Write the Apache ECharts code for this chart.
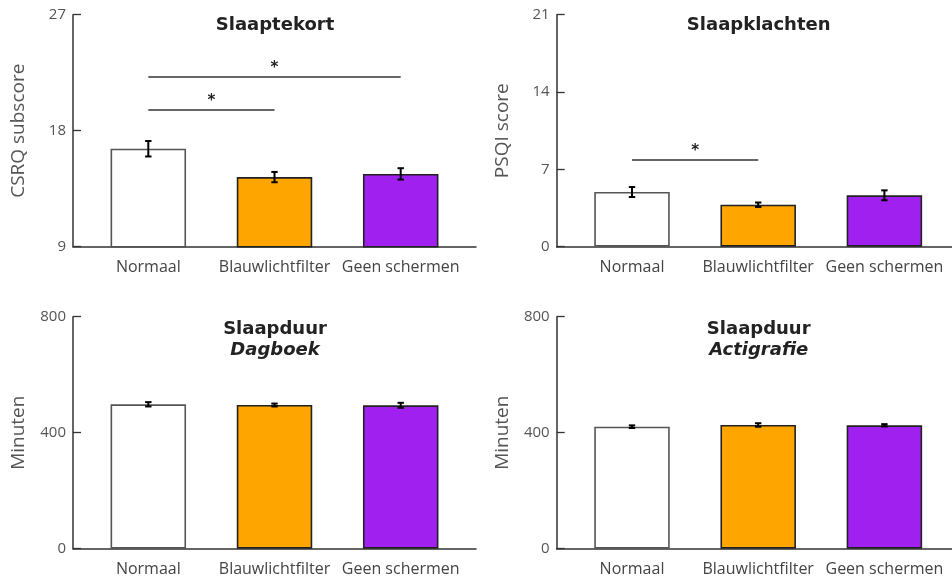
<!DOCTYPE html>
<html>
<head>
<meta charset="utf-8">
<script src="https://cdn.jsdelivr.net/npm/echarts@6/dist/echarts.min.js"></script>
<style>
html,body{margin:0;padding:0;background:#fff;}
#chart{width:952px;height:579px;}
</style>
</head>
<body>
<div id="chart"></div>
<script>
// ---------- data ----------
var categories = ['Normaal', 'Blauwlichtfilter', 'Geen schermen'];

var csrqMeans = [16.6, 14.4, 14.65];
var csrqErr   = [0.6, 0.4, 0.44];
var csrqTicks = [9, 18, 27];
var csrqSig   = [['Normaal', 'Geen schermen', 22.2], ['Normaal', 'Blauwlichtfilter', 19.6]];

var psqiMeans = [4.95, 3.8, 4.65];
var psqiErr   = [0.45, 0.2, 0.45];
var psqiTicks = [0, 7, 14, 21];
var psqiSig   = [['Normaal', 'Blauwlichtfilter', 7.85]];

var dagboekMeans = [498, 495.5, 494.5];
var dagboekErr   = [7.5, 5, 8.5];
var dagboekTicks = [0, 400, 800];

var actiMeans = [420.7, 426.6, 425.5];
var actiErr   = [4.5, 6, 4];
var actiTicks = [0, 400, 800];

var barColors  = ['#ffffff', '#ffa500', '#a020f0'];
var barBorders = ['#555555', '#222222', '#222222'];

// ---------- layout ----------
var panels = [
  {axisX: 73,    top: 14.7,  right: 476, yName: 'CSRQ subscore', title: 'Slaaptekort', sub: null,
   means: csrqMeans, errs: csrqErr, ticks: csrqTicks, sig: csrqSig},
  {axisX: 556.7, top: 14.7,  right: 952, yName: 'PSQI score', title: 'Slaapklachten', sub: null,
   means: psqiMeans, errs: psqiErr, ticks: psqiTicks, sig: psqiSig},
  {axisX: 73,    top: 316.7, right: 476, yName: 'Minuten', title: 'Slaapduur', sub: 'Dagboek',
   means: dagboekMeans, errs: dagboekErr, ticks: dagboekTicks, sig: []},
  {axisX: 556.7, top: 316.7, right: 952, yName: 'Minuten', title: 'Slaapduur', sub: 'Actigrafie',
   means: actiMeans, errs: actiErr, ticks: actiTicks, sig: []}
];

var H = 232, BAND_OFFSET = 12.2, INNER_W = 378.6;
var labelFont = '"Open Sans", "DejaVu Sans", sans-serif';
var titleFont = '"DejaVu Sans", Verdana, sans-serif';

var grids = [], xAxes = [], yAxes = [], series = [], titles = [];

panels.forEach(function (p, i) {
  var outer = 2 * i, inner = 2 * i + 1;
  var tmin = p.ticks[0], tmax = p.ticks[p.ticks.length - 1], step = p.ticks[1] - p.ticks[0];

  grids.push({left: p.axisX, top: p.top, width: p.right - p.axisX, height: H});
  grids.push({left: p.axisX + BAND_OFFSET, top: p.top, width: INNER_W, height: H});

  // outer: axis lines, y ticks and labels
  xAxes.push({gridIndex: outer, type: 'value', min: 0, max: 1,
    axisLine: {show: true, lineStyle: {color: '#333', width: 1.5}},
    axisTick: {show: false}, axisLabel: {show: false}, splitLine: {show: false}});
  yAxes.push({gridIndex: outer, type: 'value', min: tmin, max: tmax, interval: step,
    name: p.yName, nameLocation: 'middle', nameGap: 45,
    nameTextStyle: {fontFamily: labelFont, fontSize: 19, color: '#555'},
    axisLine: {show: true, lineStyle: {color: '#333', width: 1.5}},
    axisTick: {show: true, inside: true, length: 8, lineStyle: {color: '#333', width: 1.3}},
    axisLabel: {fontFamily: labelFont, fontSize: 15, color: '#555', margin: 7},
    splitLine: {show: false}});

  // inner: category bands
  xAxes.push({gridIndex: inner, type: 'category', data: categories,
    axisLine: {show: false}, axisTick: {show: false}, splitLine: {show: false},
    axisLabel: {fontFamily: labelFont, fontSize: 16, color: '#444', margin: 12.5, interval: 0}});
  yAxes.push({gridIndex: inner, type: 'value', min: tmin, max: tmax, interval: step, show: false});

  var barData = p.means.map(function (v, k) {
    return {value: v, itemStyle: {color: barColors[k], borderColor: barBorders[k], borderWidth: 1.6}};
  });

  var markLines = p.sig.map(function (s) {
    return [{coord: [categories.indexOf(s[0]), s[2]]}, {coord: [categories.indexOf(s[1]), s[2]]}];
  });

  series.push({
    type: 'bar', xAxisIndex: inner, yAxisIndex: inner, data: barData, barWidth: 75.5,
    z: 2, silent: true,
    markLine: markLines.length ? {
      silent: true, symbol: ['none', 'none'], animation: false,
      lineStyle: {color: '#333', width: 1.5, type: 'solid'},
      label: {show: true, formatter: '*', position: 'insideMiddleTop', distance: 1,
              fontFamily: titleFont, fontWeight: 'bold', fontSize: 15, color: '#222'},
      emphasis: {disabled: true},
      data: markLines
    } : undefined
  });

  series.push({
    type: 'custom', xAxisIndex: inner, yAxisIndex: inner, z: 5, silent: true,
    data: p.means.map(function (m, k) { return [k, m, p.errs[k]]; }),
    renderItem: function (params, api) {
      var x = api.value(0), m = api.value(1), e = api.value(2);
      var top = api.coord([x, m + e]);
      var bot = api.coord([x, m - e]);
      var cw = 3.2;
      var st = {stroke: '#000', lineWidth: 2};
      return {type: 'group', children: [
        {type: 'line', shape: {x1: top[0], y1: top[1], x2: bot[0], y2: bot[1]}, style: st},
        {type: 'line', shape: {x1: top[0] - cw, y1: top[1], x2: top[0] + cw, y2: top[1]}, style: st},
        {type: 'line', shape: {x1: bot[0] - cw, y1: bot[1], x2: bot[0] + cw, y2: bot[1]}, style: st}
      ]};
    }
  });

  var cx = p.axisX + BAND_OFFSET + INNER_W / 2 - 4.5;
  if (p.sub) {
    titles.push({text: '{a|' + p.title + '}\n{b|' + p.sub + '}', left: cx, top: p.top - 3, textAlign: 'center',
      textStyle: {rich: {
        a: {fontFamily: titleFont, fontWeight: 'bold', fontSize: 18, color: '#222', lineHeight: 21},
        b: {fontFamily: titleFont, fontWeight: 'bold', fontStyle: 'italic', fontSize: 18, color: '#222', lineHeight: 21}
      }}});
  } else {
    titles.push({text: p.title, left: cx, top: p.top - 3, textAlign: 'center',
      textStyle: {fontFamily: titleFont, fontWeight: 'bold', fontSize: 18, color: '#222'}});
  }
});

var chart = echarts.init(document.getElementById('chart'), null, {renderer: 'canvas'});
chart.setOption({
  animation: false,
  backgroundColor: '#fff',
  title: titles,
  grid: grids,
  xAxis: xAxes,
  yAxis: yAxes,
  series: series
});
</script>
</body>
</html>
